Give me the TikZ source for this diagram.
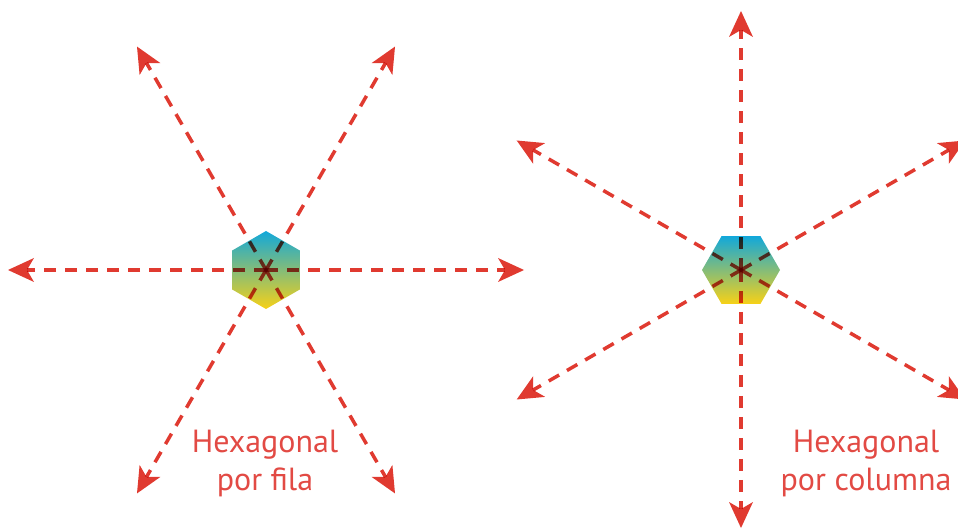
\documentclass[tikz,border=0pt]{standalone}
\usepackage{fontspec}
\setmainfont{PT Sans}
\usetikzlibrary{arrows.meta,shapes.geometric,calc,positioning}

\definecolor{arrowred}{HTML}{E03A30}
\definecolor{labelred}{HTML}{E24A44}
\definecolor{hexblue}{HTML}{12A8DA}
\definecolor{hexgreen}{HTML}{8CCAA0}
\definecolor{hexyellow}{HTML}{F7D117}

\tikzset{
  hexcell/.style={regular polygon, regular polygon sides=6, minimum size=78pt, inner sep=0pt,
    top color=hexblue, middle color=hexgreen, bottom color=hexyellow},
  dir/.style={draw=arrowred, line width=3.5pt, dash pattern=on 12pt off 9pt,
    -{Stealth[length=26pt, width=24pt, inset=7pt, line width=0pt, fill=arrowred]}},
  caption/.style={text=labelred, align=center, font=\fontsize{32}{38}\selectfont}
}

\begin{document}
\begin{tikzpicture}[x=1pt, y=1pt]
  \useasboundingbox (0,0) rectangle (958,530);

  % hexagonal por fila
  \node[hexcell, shape border rotate=30] (fila) at (266,260) {};
  \coordinate (f0) at ($(fila.center)+(0:258)$);
  \coordinate (f60) at ($(fila.center)+(60:258)$);
  \coordinate (f120) at ($(fila.center)+(120:258)$);
  \coordinate (f180) at ($(fila.center)+(180:258)$);
  \coordinate (f240) at ($(fila.center)+(240:258)$);
  \coordinate (f300) at ($(fila.center)+(300:258)$);

  % hexagonal por columna
  \node[hexcell] (col) at (741,260) {};
  \coordinate (c30) at ($(col.center)+(30:259)$);
  \coordinate (c90) at ($(col.center)+(90:259)$);
  \coordinate (c150) at ($(col.center)+(150:259)$);
  \coordinate (c210) at ($(col.center)+(210:259)$);
  \coordinate (c270) at ($(col.center)+(270:258)$);
  \coordinate (c330) at ($(col.center)+(330:259)$);

  \begin{scope}[blend mode=multiply]
    \draw[dir] (fila.center) -- (f0);
    \draw[dir] (fila.center) -- (f60);
    \draw[dir] (fila.center) -- (f120);
    \draw[dir] (fila.center) -- (f180);
    \draw[dir] (fila.center) -- (f240);
    \draw[dir] (fila.center) -- (f300);

    \draw[dir] (col.center) -- (c30);
    \draw[dir] (col.center) -- (c90);
    \draw[dir] (col.center) -- (c150);
    \draw[dir] (col.center) -- (c210);
    \draw[dir] (col.center) -- (c270);
    \draw[dir] (col.center) -- (c330);
  \end{scope}

  \node[caption] (lfila) at (265,67) {Hexagonal\\por fila};
  \node[caption] (lcol) at (866,66) {Hexagonal\\por columna};
\end{tikzpicture}
\end{document}
